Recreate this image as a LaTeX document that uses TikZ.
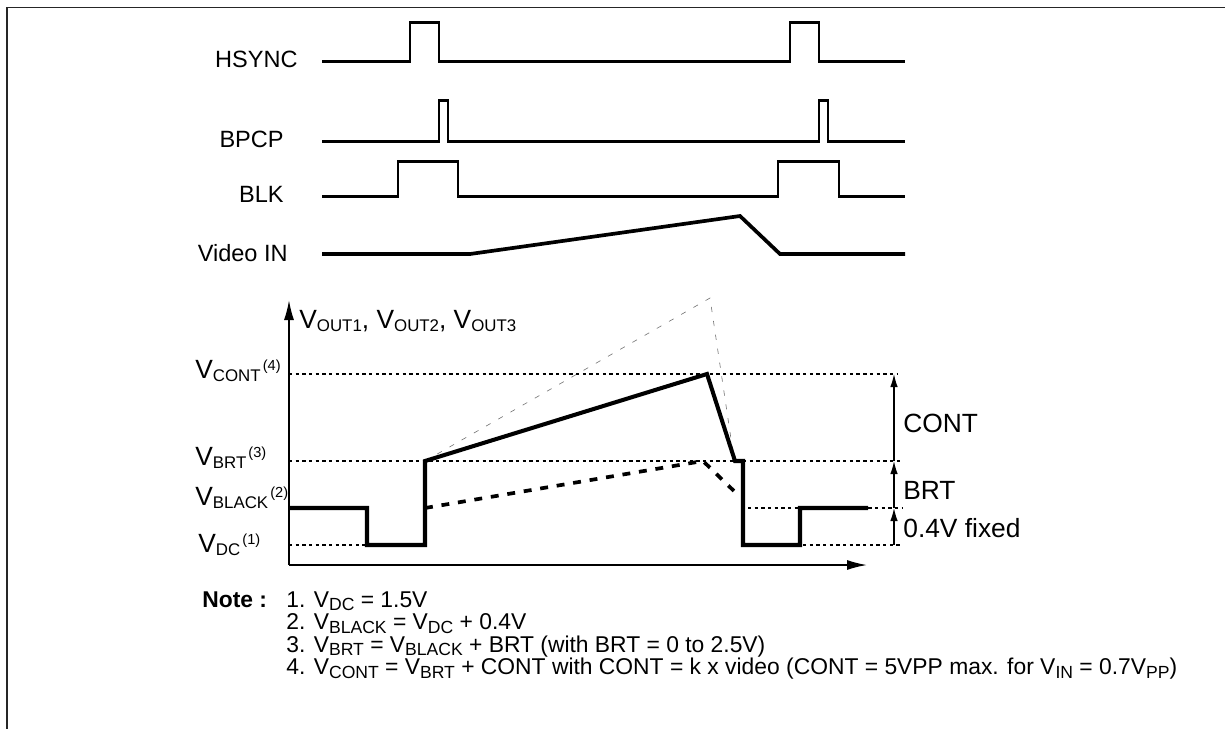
\documentclass[tikz,border=0pt]{standalone}
\usepackage{fontspec}
\setmainfont{Liberation Sans}
\usetikzlibrary{arrows.meta}
\newcommand\lsub[1]{\raisebox{-2pt}{\fontsize{9.6}{10}\selectfont #1}}
\newcommand\lsup[1]{\hspace{1.2pt}\raisebox{4pt}{\fontsize{8.3}{9}\selectfont #1}}
\newcommand\nsub[1]{\raisebox{-2pt}{\fontsize{10}{10}\selectfont #1}}
\begin{document}
\begin{tikzpicture}[x=0.02cm,y=-0.02cm,
  sig/.style={line width=1.7pt},
  vid/.style={line width=2.1pt},
  wave/.style={line width=2.3pt},
  refline/.style={line width=0.7pt, dash pattern=on 1.9pt off 1.9pt},
  ghost/.style={line width=0.35pt, black!55, dash pattern=on 3pt off 5pt},
  thickdash/.style={line width=2.1pt, dash pattern=on 4.5pt off 5pt},
  axis/.style={line width=0.9pt, -{Latex[length=0.4cm,width=0.2cm]}},
  dim/.style={line width=0.7pt, -{Latex[length=0.26cm,width=0.15cm]}},
  lbl/.style={font=\fontsize{15}{18}\selectfont, inner sep=0pt},
  slbl/.style={font=\fontsize{13.4}{16}\selectfont, inner sep=0pt, anchor=base east},
  note/.style={font=\fontsize{13}{15}\selectfont, inner sep=0pt, anchor=base west},
  frame/.style={line width=0.9pt, black!85}]
\useasboundingbox (0,0) rectangle (1225,728);
% frame
\draw[frame] (7,740) -- (7,7.5) -- (1240,7.5);

% signal labels
\node[slbl] (lhs) at (298,67) {HSYNC};
\node[slbl] (lbp) at (284,147) {BPCP};
\node[slbl] (lbk) at (284,202) {BLK};
\node[slbl] (lvi) at (288,261) {Video IN};

% signals
\draw[sig] (322,61) -- (410,61) -- (410,22) -- (439,22) -- (439,61) -- (790,61) -- (790,22) -- (819,22) -- (819,61) -- (905,61);
\draw[sig] (322,141) -- (439,141) -- (439,100) -- (448,100) -- (448,141) -- (819,141) -- (819,100) -- (828,100) -- (828,141) -- (905,141);
\draw[sig] (322,196) -- (398,196) -- (398,161) -- (458,161) -- (458,196) -- (778,196) -- (778,161) -- (839,161) -- (839,196) -- (905,196);
\draw[vid] (322,254) -- (470,254) -- (740,216) -- (780,254) -- (905,254);

% axes
\coordinate (O) at (289,565);
\coordinate (Ytop) at (289,300);
\coordinate (Xend) at (867,565);
\draw[axis] (O) -- (Ytop);
\draw[axis] (O) -- (Xend);

% reference levels
\draw[refline] (289,374) -- (897,374);
\draw[refline] (289,461) -- (903,461);
\draw[refline] (289,545) -- (367,545);
\draw[refline] (803,545) -- (903,545);
\draw[refline] (748,508) -- (903,508);

% ghost and dashed curves
\draw[ghost] (425,461) -- (710,298) -- (734,459);
\draw[thickdash] (425,508) -- (703,461) -- (735,492);

% output waveform
\draw[wave] (289,508) -- (367,508) -- (367,545) -- (425,545) -- (425,461) -- (707,374) -- (735,461) -- (743,461) -- (743,545) -- (800,545) -- (800,508) -- (868,508);

% dimension arrows
\coordinate (d0) at (894,545);
\coordinate (d1) at (894,508);
\coordinate (d2) at (894,461);
\coordinate (d3) at (894,374);
\draw[dim] (d0) -- (d1);
\draw[dim] (d1) -- (d2);
\draw[dim] (d2) -- (d3);

% labels of the plot
\node[lbl, anchor=base west] (vout) at (299,328) {V\lsub{OUT1}, V\lsub{OUT2}, V\lsub{OUT3}};
\node[lbl, anchor=base west] (vcont) at (195,378) {V\lsub{CONT}\lsup{(4)}};
\node[lbl, anchor=base west] (vbrt) at (195,465) {V\lsub{BRT}\lsup{(3)}};
\node[lbl, anchor=base west] (vblack) at (195,505) {V\lsub{BLACK}\lsup{(2)}};
\node[lbl, anchor=base west] (vdc) at (198,552) {V\lsub{DC}\lsup{(1)}};
\node[lbl, anchor=base west] (tcont) at (903,432) {CONT};
\node[lbl, anchor=base west] (tbrt) at (903,499) {BRT};
\node[lbl, anchor=base west] (tfix) at (903,537) {0.4V fixed};

% notes
\node[note] (nh) at (202,607) {\textbf{Note :}};
\node[note] (n1) at (286,607) {1. V\nsub{DC} = 1.5V};
\node[note] (n2) at (286,629.5) {2. V\nsub{BLACK} = V\nsub{DC} + 0.4V};
\node[note] (n3) at (286,652) {3. V\nsub{BRT} = V\nsub{BLACK} + BRT (with BRT = 0 to 2.5V)};
\node[note] (n4) at (286,674.5) {4. V\nsub{CONT} = V\nsub{BRT} + CONT with CONT = k x video (CONT = 5VPP max. for V\nsub{IN} = 0.7V\nsub{PP})};
\end{tikzpicture}
\end{document}
